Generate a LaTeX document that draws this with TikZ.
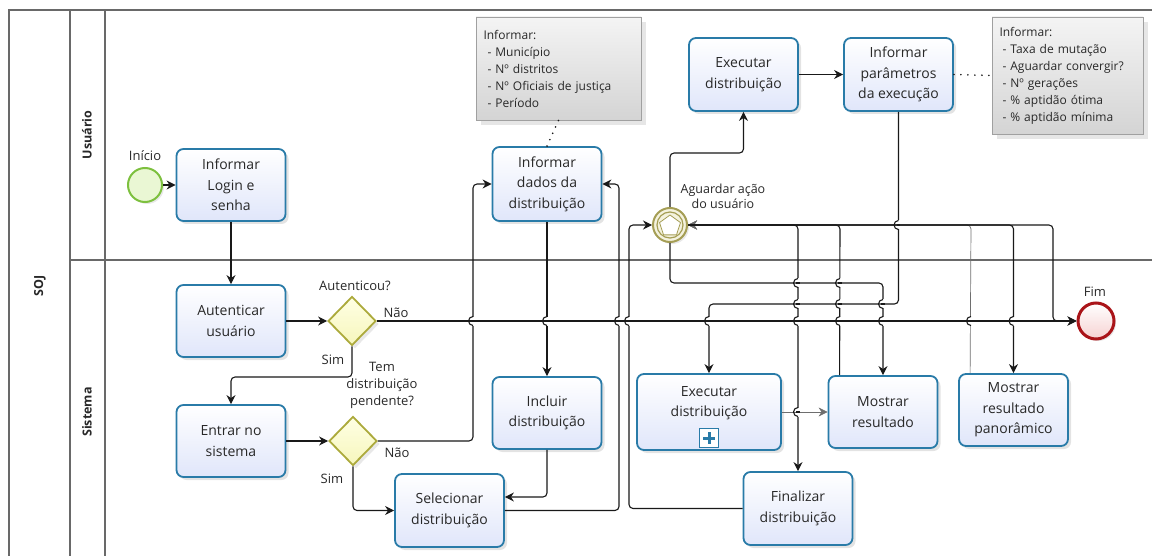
\documentclass[tikz,border=0pt]{standalone}
\usepackage{fontspec}
\setmainfont{Open Sans}
\usetikzlibrary{shapes.geometric,arrows.meta,shadows,calc}
\definecolor{taskborder}{RGB}{41,123,168}
\definecolor{taskfill}{RGB}{224,230,250}
\definecolor{gwborder}{RGB}{172,170,60}
\definecolor{gwtop}{RGB}{255,255,228}
\definecolor{gwfill}{RGB}{246,246,188}
\definecolor{startborder}{RGB}{125,192,62}
\definecolor{startfill}{RGB}{234,247,212}
\definecolor{endborder}{RGB}{170,20,25}
\definecolor{endfill}{RGB}{246,210,210}
\definecolor{evborder}{RGB}{165,158,85}
\definecolor{evfill}{RGB}{244,242,222}
\definecolor{annborder}{RGB}{160,160,160}
\definecolor{anntop}{RGB}{244,244,244}
\definecolor{annbot}{RGB}{212,212,212}
\definecolor{lanecol}{RGB}{105,105,105}
\definecolor{flowcol}{RGB}{25,25,25}
\definecolor{thingray}{RGB}{110,110,110}
\definecolor{txt}{RGB}{40,40,40}
\tikzset{
  task/.style={draw=taskborder, line width=1.8pt, rounded corners=7pt, top color=white, bottom color=taskfill,
    minimum width=109pt, minimum height=72pt, align=center, font=\fontsize{14}{20.5}\selectfont, text=txt,
    inner sep=1pt, drop shadow={opacity=0.22, shadow xshift=3pt, shadow yshift=-3pt}},
  gw/.style={diamond, aspect=1, draw=gwborder, line width=1.8pt, top color=gwtop, bottom color=gwfill,
    minimum width=48pt, minimum height=49pt, inner sep=0pt, drop shadow={opacity=0.18, shadow xshift=3pt, shadow yshift=-3pt}},
  lbl/.style={font=\fontsize{13}{17}\selectfont, text=txt, inner sep=0pt, align=center},
  flow/.style={draw=flowcol, line width=1.1pt, rounded corners=4pt, -{Stealth[length=9pt,width=9pt]}},
  thinflow/.style={flow, draw=thingray, line width=0.7pt},
  assoc/.style={draw=flowcol, line width=1.8pt, line cap=round, dash pattern=on 0pt off 7pt},
  ann/.style={draw=annborder, line width=0.6pt, top color=anntop, bottom color=annbot, align=left,
    font=\fontsize{12}{17}\selectfont, text=txt, inner sep=0pt,
    drop shadow={opacity=0.2, shadow xshift=5pt, shadow yshift=-5pt}},
  lane/.style={draw=lanecol, line width=1.1pt},
  lanelbl/.style={rotate=90, font=\bfseries\fontsize{12.5}{15}\selectfont, text=txt, inner sep=0pt},
}
\begin{document}
\begin{tikzpicture}[x=1pt,y=-1pt]
\useasboundingbox (0,0) rectangle (1152,556);
% pool and lanes
\draw[lane] (9,556) -- (9,10) -- (1152,10);
\draw[lane] (70,10) -- (70,556);
\draw[lane] (105,10) -- (105,556);
\draw[lane] (70,260) -- (1152,260);
\node[lanelbl] (pool) at (40,286) {SOJ};
\node[lanelbl] (laneU) at (87,135) {Usuário};
\node[lanelbl] (laneS) at (87,412) {Sistema};

% annotations
\node[ann, minimum width=165pt, minimum height=103pt, text width=150pt] (ann1) at (558.5,68.5)
  {Informar:\\\hspace*{4pt}- Município\\\hspace*{4pt}- Nº distritos\\\hspace*{4pt}- Nº Oficiais de justiça\\\hspace*{4pt}- Período};
\node[ann, minimum width=151pt, minimum height=117pt, text width=136pt] (ann2) at (1067.5,75.5)
  {Informar:\\\hspace*{3pt}- Taxa de mutação\\\hspace*{3pt}- Aguardar convergir?\\\hspace*{3pt}- Nº gerações\\\hspace*{3pt}- \% aptidão ótima\\\hspace*{3pt}- \% aptidão mínima};

% events
\node[circle, draw=startborder, line width=2pt, fill=startfill, minimum size=34pt, inner sep=0pt,
  drop shadow={opacity=0.18, shadow xshift=2pt, shadow yshift=-2pt}] (inicio) at (145,185) {};
\node[lbl] (linicio) at (145,156) {Início};
\node[circle, draw=endborder, line width=3pt, top color=white, bottom color=endfill, minimum size=36pt, inner sep=0pt,
  drop shadow={opacity=0.18, shadow xshift=2pt, shadow yshift=-2pt}] (fim) at (1096,321) {};
\node[lbl] (lfim) at (1095,292) {Fim};
\node[circle, draw=evborder, line width=2pt, fill=evfill, minimum size=34pt, inner sep=0pt,
  drop shadow={opacity=0.18, shadow xshift=2pt, shadow yshift=-2pt}] (event) at (670,225) {};
\draw[evborder, line width=1.2pt] (event.center) circle[radius=13pt];
\node[regular polygon, regular polygon sides=5, draw=evborder, fill=white, minimum size=22pt, inner sep=0pt, line width=0.8pt] (pent) at (670,226) {};
\node[lbl, font=\fontsize{12.5}{15}\selectfont] (levent) at (723,196.5) {Aguardar ação\\do usuário};

% tasks
\node[task] (login) at (231,185) {Informar\\Login e\\senha};
\node[task] (autenticar) at (231,321) {Autenticar\\usuário};
\node[task] (entrar) at (231,441) {Entrar no\\sistema};
\node[task, minimum height=73pt] (selecionar) at (449.5,510.5) {Selecionar\\distribuição};
\node[task] (incluir) at (547,413) {Incluir\\distribuição};
\node[task, minimum height=74pt] (dados) at (547,184) {Informar\\dados da\\distribuição};
\node[task, minimum height=73pt] (execU) at (743.5,74.5) {Executar\\distribuição};
\node[task, minimum height=73pt] (params) at (898.5,74.5) {Informar\\parâmetros\\da execução};
\node[task, minimum width=144pt, minimum height=76pt] (execS) at (709,412) {Executar\\distribuição\\~};
\node[draw=taskborder, line width=1.5pt, fill=white, minimum size=19pt, inner sep=0pt] (plus) at (709,438) {};
\draw[taskborder, line width=3pt] (703,438) -- (715,438) (709,432) -- (709,444);
\node[task, minimum height=73pt] (finalizar) at (798,508.5) {Finalizar\\distribuição};
\node[task] (mostrar) at (883,412) {Mostrar\\resultado};
\node[task] (panor) at (1013.5,410) {Mostrar\\resultado\\panorâmico};

% gateways
\node[gw] (gw1) at (352,321) {};
\node[lbl] (lgw1) at (355,286) {Autenticou?};
\node[gw] (gw2) at (353,441) {};
\node[lbl] (lgw2) at (382,385) {Tem\\distribuição\\pendente?};

% flows
\draw[flow] (inicio) -- (login);
\draw[flow] (login.south) -- (autenticar.north);
\draw[flow] (autenticar.east) -- (gw1.west);
\draw[flow] (gw1.south) -- (352,377) -- (231,377) -- (entrar.north);
\node[lbl] (lsim1) at (333,360) {Sim};
\draw[flow] (gw1.east) -- (fim.west);
\node[lbl] (lnao1) at (396,313) {Não};
\draw[flow] (entrar.east) -- (gw2.west);
\draw[flow] (gw2.south) -- (353,510.5) -- (selecionar.west);
\node[lbl] (lsim2) at (332,479) {Sim};
\draw[flow] (gw2.east) -- (473,441) -- (473,184) -- (dados.west);
\node[lbl] (lnao2) at (397,453) {Não};
\draw[flow] (dados.south) -- (incluir.north);
\draw[flow] (incluir.south) -- (547,497) -- ($(selecionar.east)+(0,-13.5)$);
\draw[flow] (selecionar.east) -- (619,510.5) -- (619,184) -- (dados.east);
\draw[flow] (finalizar.west) -- (629,508.5) -- (629,225) -- (event.west);
\draw[flow] (event.north) -- (670,153) -- (743.5,153) -- (execU.south);
\draw[flow] (execU.east) -- (params.west);
\draw[flow] (params.south) -- (898.5,304) -- (709,304) -- (execS.north);
\draw[flow] (event.south) -- (670,283) -- (883,283) -- (mostrar.north);
\draw[thinflow] (execS.east) -- (mostrar.west);
\draw[flow] ($(mostrar.north west)+(12,0)$) -- (840,225) -- (event.east);
\draw[thinflow] ($(panor.north west)+(12,0)$) -- (971,225) -- (event.east);
\draw[flow] (event.east) -- (798,225) -- (finalizar.north);
\draw[flow] (event.east) -- (1013.5,225) -- (panor.north);
\draw[flow] (event.east) -- (1053,225) -- (1053,321) -- (fim.west);
% associations
\draw[assoc] (dados.north) -- (ann1.south);
\draw[assoc] (params.east) -- (ann2.west);

% line jumps
\foreach \hx/\hy in {473/321,547/321,619/321,629/321,709/321,798/321,840/321,883/321,971/321,1013.5/321,
  798/283,840/283,798/304,840/304,883/304,898.5/225,798/412} {
  \fill[white] (\hx-1.3,\hy-4.5) rectangle (\hx+1.3,\hy+4.5);
  \draw[flowcol, line width=1.1pt] (\hx-1.6,\hy) -- (\hx+1.6,\hy);
  \draw[flowcol, line width=1.1pt] (\hx,\hy-4.5) arc[start angle=90, end angle=270, radius=4.5pt];
}
\end{tikzpicture}
\end{document}
